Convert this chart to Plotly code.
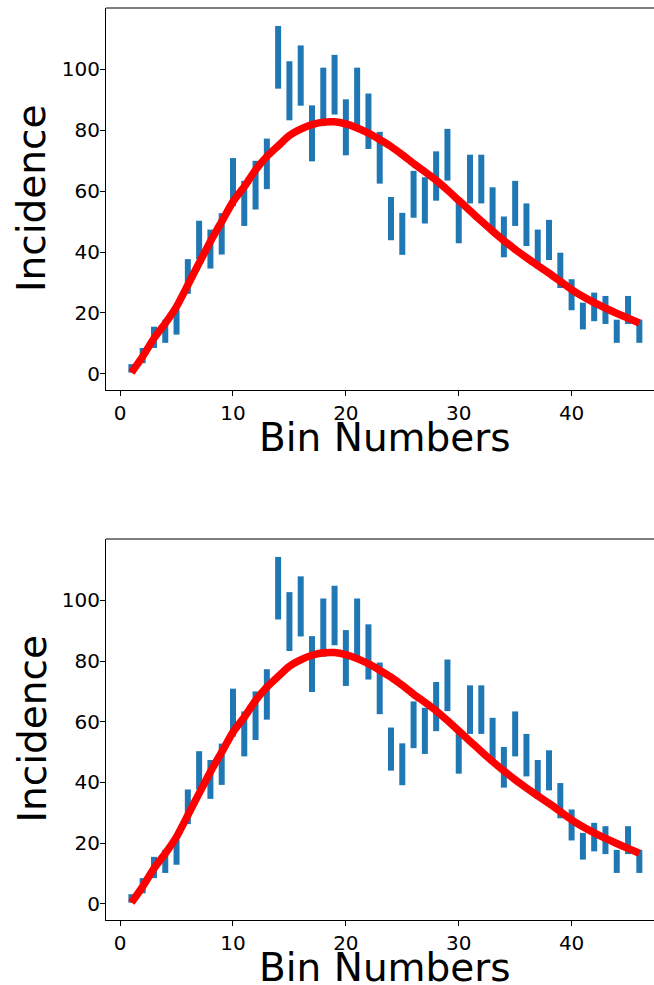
import plotly.graph_objects as go

# ---- data ----
bins = list(range(1, 47))
incidence = [1.8, 6, 12, 14, 17, 32, 44, 41, 46, 63,
             56, 62, 69, 104, 93, 98, 79, 91, 95, 81,
             91, 83, 71, 51, 46, 59, 57, 65, 72, 50,
             64, 64, 54, 45, 56, 49, 41, 44, 34, 26,
             19, 22, 21, 14, 21, 14]
errors = [1.4, 2.5, 3.5, 3.8, 4.1, 5.7, 6.3, 6.4, 6.8, 7.9,
          7.4, 8.0, 8.3, 10.3, 9.7, 9.9, 9.2, 9.6, 9.8, 9.2,
          9.6, 9.1, 8.5, 7.1, 6.9, 7.7, 7.6, 8.1, 8.5, 7.1,
          8.0, 8.0, 7.3, 6.7, 7.4, 7.0, 6.4, 6.6, 5.8, 5.1,
          4.4, 4.7, 4.6, 3.8, 4.6, 3.8]
fit = [0.4, 5.7, 11.7, 16.6, 22.1, 29.2, 36.4, 43.5, 50.0, 56.6,
       61.5, 67.0, 71.4, 74.9, 78.3, 80.4, 81.9, 82.7, 82.8, 82.1,
       80.8, 79.1, 77.0, 74.7, 72.0, 69.1, 66.4, 63.6, 60.4, 57.0,
       53.6, 50.2, 46.9, 43.8, 40.9, 38.2, 35.6, 33.1, 30.4, 27.7,
       25.4, 23.4, 21.6, 19.9, 18.3, 16.7]

x_ticks = [0, 10, 20, 30, 40]
y_ticks = [0, 20, 40, 60, 80, 100]
x_title = "Bin Numbers"
y_title = "Incidence"

W, H = 654, 985
FONT = "DejaVu Sans"
BLUE = "#1f77b4"
INK = "#000000"

fig = go.Figure()

# panel pixel geometry (top, bottom) in page pixels
panels = [(8, 390), (539, 920)]
left_px = 106

for i, (top, bot) in enumerate(panels):
    xa = "x" if i == 0 else "x2"
    ya = "y" if i == 0 else "y2"
    fig.add_trace(go.Scatter(
        x=bins, y=incidence, mode="markers", xaxis=xa, yaxis=ya,
        marker=dict(color=BLUE, size=3),
        error_y=dict(type="data", array=errors, visible=True,
                     color=BLUE, thickness=6, width=0),
        showlegend=False, hoverinfo="skip"))
    fig.add_trace(go.Scatter(
        x=bins, y=fit, mode="lines", xaxis=xa, yaxis=ya,
        line=dict(color="#ff0000", width=7.5, shape="spline", smoothing=0.6),
        showlegend=False, hoverinfo="skip"))

def ydom(top, bot):
    return [1 - bot / H, 1 - top / H]

axis_common = dict(
    showgrid=False, zeroline=False, showline=True, linecolor=INK, linewidth=1,
    ticks="outside", ticklen=5, tickwidth=1, tickcolor=INK,
    tickfont=dict(family=FONT, size=20, color=INK),
)

layout = dict(
    width=W, height=H,
    margin=dict(l=left_px, r=0, t=0, b=0),
    paper_bgcolor="white", plot_bgcolor="white",
    font=dict(family=FONT, color=INK),
)
for i, (top, bot) in enumerate(panels):
    sx = "" if i == 0 else "2"
    layout["xaxis" + sx] = dict(axis_common, domain=[0, 1], range=[-1.25, 47.3],
                                tickvals=x_ticks, anchor="y" + sx)
    layout["yaxis" + sx] = dict(axis_common, domain=ydom(top, bot), range=[-5.3, 120.2],
                                tickvals=y_ticks, anchor="x" + sx, ticklabelstandoff=-4)
fig.update_layout(**layout)

shapes = []
annotations = []
for i, (top, bot) in enumerate(panels):
    sx = "" if i == 0 else "2"
    shapes.append(dict(type="line", xref="x" + sx + " domain", yref="y" + sx + " domain",
                       x0=0, x1=1, y0=1, y1=1, line=dict(color=INK, width=1)))
    # x-axis title centred on the full (clipped) axes box
    annotations.append(dict(
        text=x_title, xref="paper", yref="paper",
        x=(385 - left_px) / (W - left_px), y=1 - (bot + 47) / H,
        xanchor="center", yanchor="middle", showarrow=False,
        font=dict(family=FONT, size=39, color=INK)))
    annotations.append(dict(
        text=y_title, xref="paper", yref="paper",
        x=(32 - left_px) / (W - left_px), y=1 - ((top + bot) / 2) / H,
        xanchor="center", yanchor="middle", textangle=-90, showarrow=False,
        font=dict(family=FONT, size=39, color=INK)))
fig.update_layout(shapes=shapes, annotations=annotations)

fig.write_html(
    "out.html",
    config=dict(displayModeBar=False),
    post_script="document.body.style.margin='0';document.body.style.overflow='hidden';",
)
